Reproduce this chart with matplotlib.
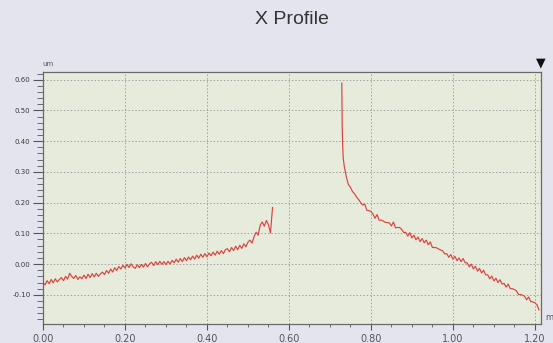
import numpy as np
import matplotlib
matplotlib.use("Agg")
import matplotlib.pyplot as plt
from matplotlib.ticker import MultipleLocator, FormatStrFormatter

# left part of the profile, sampled every 0.005 from 0.00 to 0.56
left_um = [
    -0.060, -0.068, -0.054, -0.064, -0.050, -0.061, -0.048, -0.058, -0.050, -0.044,
    -0.054, -0.040, -0.049, -0.030, -0.040, -0.047, -0.037, -0.050, -0.041, -0.048,
    -0.036, -0.047, -0.033, -0.044, -0.031, -0.042, -0.030, -0.040, -0.032, -0.026,
    -0.034, -0.021, -0.030, -0.016, -0.026, -0.012, -0.021, -0.008, -0.016, -0.004,
    -0.013, -0.001, -0.011, 0.001, -0.009, -0.014, -0.002, -0.012, -0.001, -0.010,
    0.002, -0.009, 0.001, 0.006, -0.005, 0.008, -0.002, 0.009, -0.001, 0.008,
    -0.002, 0.009, 0.000, 0.012, 0.004, 0.016, 0.006, 0.018, 0.008, 0.021,
    0.011, 0.023, 0.014, 0.026, 0.016, 0.029, 0.019, 0.032, 0.022, 0.034,
    0.024, 0.036, 0.027, 0.039, 0.029, 0.042, 0.032, 0.044, 0.034, 0.047,
    0.050, 0.040, 0.054, 0.044, 0.058, 0.047, 0.061, 0.051, 0.066, 0.056,
    0.071, 0.078, 0.068, 0.089, 0.104, 0.094, 0.127, 0.137, 0.123, 0.142,
    0.128, 0.101, 0.184,
]
left_x = np.linspace(0.0, 0.56, len(left_um))

# right part: steep wall, then sampled every 0.005 from 0.735 to 1.21
wall_x = [0.729, 0.7295, 0.730, 0.731, 0.7325]
wall_um = [0.589, 0.520, 0.450, 0.390, 0.345]
right_um = [
    0.318, 0.284, 0.259, 0.250, 0.236, 0.229, 0.218, 0.210, 0.200, 0.192,
    0.195, 0.175, 0.174, 0.171, 0.163, 0.149, 0.161, 0.143, 0.143, 0.140,
    0.136, 0.135, 0.134, 0.124, 0.137, 0.118, 0.119, 0.119, 0.113, 0.103,
    0.103, 0.091, 0.102, 0.085, 0.094, 0.079, 0.088, 0.073, 0.083, 0.069,
    0.078, 0.063, 0.072, 0.054, 0.054, 0.053, 0.049, 0.046, 0.043, 0.033,
    0.034, 0.022, 0.031, 0.016, 0.025, 0.011, 0.020, 0.008, 0.018, 0.004,
    0.004, -0.009, 0.000, -0.016, -0.007, -0.023, -0.014, -0.029, -0.020, -0.035,
    -0.035, -0.048, -0.039, -0.055, -0.046, -0.060, -0.051, -0.065, -0.063, -0.075,
    -0.065, -0.080, -0.080, -0.083, -0.087, -0.099, -0.099, -0.101, -0.105, -0.116,
    -0.107, -0.122, -0.123, -0.126, -0.132, -0.149,
]
right_x = np.concatenate([wall_x, np.linspace(0.735, 1.21, len(right_um))])
right_um = wall_um + right_um

bg = "#e4e4ee"
plot_bg = "#e7ebdc"
line_c = "#d9443f"
txt_c = "#3a3a3a"

fig = plt.figure(figsize=(5.53, 3.43), dpi=100, facecolor=bg)
ax = fig.add_axes([43 / 553, 1 - 324 / 343, 498 / 553, 252 / 343])
ax.set_facecolor(plot_bg)

ax.plot(left_x, left_um, color=line_c, lw=0.85)
ax.plot(right_x, right_um, color=line_c, lw=0.85)

ax.set_xlim(0, 1.215)
ax.set_ylim(-0.195, 0.625)

ax.xaxis.set_major_locator(MultipleLocator(0.2))
ax.xaxis.set_minor_locator(MultipleLocator(0.05))
ax.yaxis.set_major_locator(MultipleLocator(0.1))
ax.yaxis.set_minor_locator(MultipleLocator(0.02))
ax.xaxis.set_major_formatter(FormatStrFormatter("%.2f"))
ax.yaxis.set_major_formatter(FormatStrFormatter("%.2f"))

ax.grid(True, which="major", color="#a0a0a0", ls=(0, (1.5, 2)), lw=0.7)
for s in ax.spines.values():
    s.set_color("#6a6a6a")
    s.set_linewidth(0.9)

ax.tick_params(axis="y", which="major", length=7, width=0.8, color="#555555",
               labelsize=5, labelcolor=txt_c, pad=2)
ax.tick_params(axis="y", which="minor", length=4, width=0.6, color="#555555")
ax.tick_params(axis="x", which="major", length=4, width=0.8, color="#555555",
               labelsize=7, labelcolor="#555555", pad=3)
ax.tick_params(axis="x", which="minor", length=2.5, width=0.6, color="#555555")

fig.text(291.5 / 553, 1 - 20 / 343, "X Profile", ha="center", va="center",
         fontsize=14, color="#333333", family="Liberation Sans")
fig.text(48 / 553, 1 - 64 / 343, "um", ha="center", va="center",
         fontsize=5, color="#555555")
fig.text(545 / 553, 1 - 317 / 343, "m", ha="left", va="center",
         fontsize=6, color="#555555")
fig.text(541 / 553, 1 - 63 / 343, "\u25bc", ha="center", va="center",
         fontsize=9, color="#111111")

fig.savefig("out.png", dpi=100, facecolor=bg)
